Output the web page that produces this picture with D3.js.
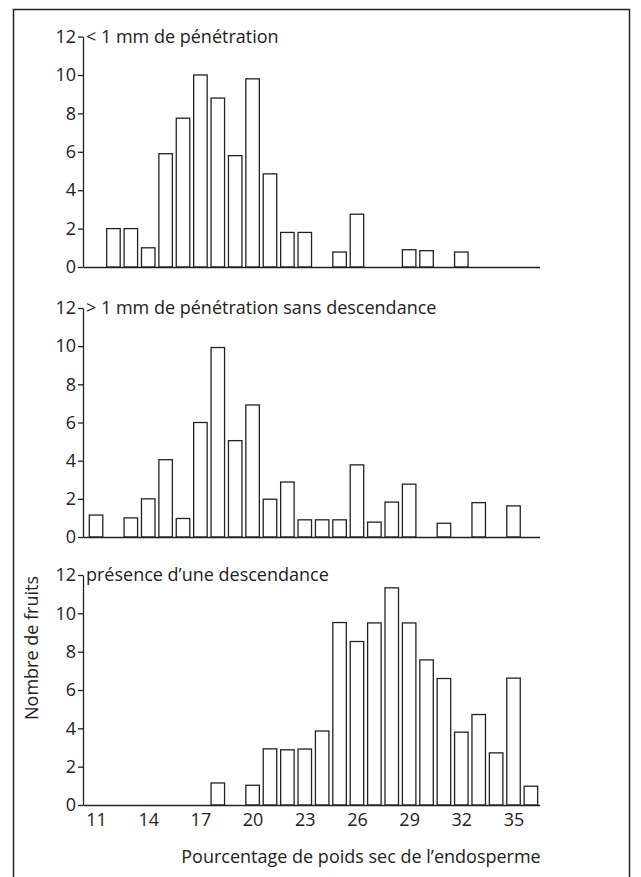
<!DOCTYPE html>
<html>
<head>
<meta charset="utf-8">
<script src="https://cdn.jsdelivr.net/npm/d3@7"></script>
<style>
  body { margin: 0; background: #fff; }
  text { font-family: "Open Sans", sans-serif; fill: #222; }
</style>
</head>
<body>
<div id="chart"></div>
<script>
// bins (% dry weight of endosperm) and counts per panel
var bins = d3.range(11, 37);
var xTicks = [11, 14, 17, 20, 23, 26, 29, 32, 35];
var yTicks = [0, 2, 4, 6, 8, 10, 12];

var titles = [
  "< 1 mm de pénétration",
  "> 1 mm de pénétration sans descendance",
  "présence d\u2019une descendance"
];

// counts, one value per bin 11..36 (0 = no bar)
var lowPenetration = [0, 2.0, 2.0, 1.0, 5.9, 7.75, 10.0, 8.8, 5.8, 9.8, 4.85, 1.8, 1.8,
  0, 0.78, 2.75, 0, 0, 0.9, 0.85, 0, 0.78, 0, 0, 0, 0];
var noDescendants = [1.15, 0, 1.0, 2.0, 4.05, 0.97, 6.0, 9.93, 5.05, 6.92, 1.98, 2.88,
  0.9, 0.9, 0.9, 3.78, 0.78, 1.83, 2.77, 0, 0.72, 0, 1.8, 0, 1.63, 0];
var withDescendants = [0, 0, 0, 0, 0, 0, 0, 1.15, 0, 1.03, 2.93, 2.88, 2.92, 3.86,
  9.52, 8.53, 9.5, 11.33, 9.5, 7.57, 6.6, 3.8, 4.72, 2.72, 6.62, 0.98];

var series = [lowPenetration, noDescendants, withDescendants];

var svgWidth = 641;
var svgHeight = 877;
var fontSize = "18px";

var svg = d3.select("#chart")
  .append("svg")
  .attr("width", svgWidth)
  .attr("height", svgHeight);

// frame (open at the bottom, cropped in the scan)
svg.append("path")
  .attr("d", "M13.5,882 V9.5 H629.5 V882")
  .attr("fill", "none")
  .attr("stroke", "#222")
  .attr("stroke-width", 1.5);

var xScale = d3.scaleLinear()
  .domain([10.25, 36.5])
  .range([83, 539.6]);

var barWidth = 13.5;

// panel bottoms / tops in pixels
var panels = [
  { y0: 267, y12: 36.6 },
  { y0: 537, y12: 308 },
  { y0: 805, y12: 575 }
];

panels.forEach(function(p, i) {
  var yScale = d3.scaleLinear().domain([0, 12]).range([p.y0, p.y12]);
  var g = svg.append("g");

  var data = bins.map(function(b, j) { return { bin: b, count: series[i][j] }; })
    .filter(function(d) { return d.count > 0; });

  g.selectAll("rect")
    .data(data)
    .enter()
    .append("rect")
    .attr("x", d => xScale(d.bin) - barWidth / 2)
    .attr("y", d => yScale(d.count))
    .attr("width", barWidth)
    .attr("height", d => yScale(0) - yScale(d.count))
    .attr("fill", "#fff")
    .attr("stroke", "#222")
    .attr("stroke-width", 1.3);

  var leftAxis = d3.axisLeft(yScale)
    .tickValues(yTicks)
    .tickSize(5)
    .tickSizeOuter(0)
    .tickPadding(2);

  var yAxis = g.append("g")
    .attr("transform", `translate(${xScale.range()[0]},0)`)
    .call(leftAxis);
  yAxis.selectAll("text").style("font-size", fontSize).attr("fill", "#222");
  yAxis.selectAll("line, path").attr("stroke", "#222").attr("stroke-width", 1.3);

  var bottomAxis = d3.axisBottom(xScale)
    .tickValues(i === 2 ? xTicks : [])
    .tickSize(0)
    .tickSizeOuter(0)
    .tickPadding(8);

  var xAxis = g.append("g")
    .attr("transform", `translate(0,${p.y0})`)
    .call(bottomAxis);
  xAxis.selectAll("text").style("font-size", fontSize).attr("fill", "#222");
  xAxis.select("path").attr("stroke", "#222").attr("stroke-width", 1.3);

  g.append("text")
    .attr("x", xScale.range()[0] + 3)
    .attr("y", p.y12)
    .attr("dy", "0.35em")
    .style("font-size", fontSize)
    .text(titles[i]);
});

// axis titles
svg.append("text")
  .attr("transform", "rotate(-90)")
  .attr("x", -648)
  .attr("y", 32)
  .attr("dy", "0.35em")
  .attr("text-anchor", "middle")
  .style("font-size", fontSize)
  .text("Nombre de fruits");

svg.append("text")
  .attr("x", 361)
  .attr("y", 857)
  .attr("dy", "0.35em")
  .attr("text-anchor", "middle")
  .style("font-size", fontSize)
  .text("Pourcentage de poids sec de l\u2019endosperme");
</script>
</body>
</html>
